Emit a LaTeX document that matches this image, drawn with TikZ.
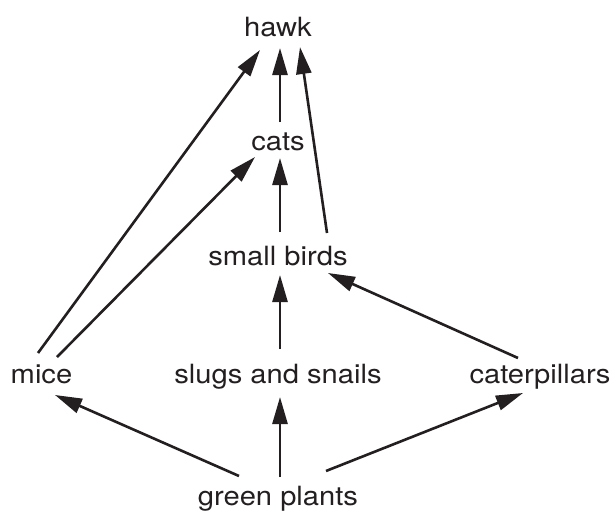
\documentclass[tikz,border=0pt]{standalone}
\usepackage{fontspec}
\setmainfont[FakeStretch=1.1]{TeX Gyre Heros}
\usetikzlibrary{arrows.meta,calc}
\definecolor{ink}{HTML}{231F20}
\begin{document}
\begin{tikzpicture}[x=1pt,y=1pt,
  lbl/.style={inner sep=0pt,anchor=base,text=ink,font=\fontsize{26.5}{30}\selectfont},
  feed/.style={draw=ink,line width=2.6pt,-{Triangle[length=27pt,width=15pt]}}]
\useasboundingbox (0,0) rectangle (613,-512);
\node[lbl] (hawk)  at (278,-36)  {hawk};
\node[lbl] (cats)  at (278,-150) {cats};
\node[lbl] (birds) at (278,-265) {small birds};
\node[lbl] (mice)  at (41.5,-383) {mice};
\node[lbl] (slugs) at (278,-383) {slugs and snails};
\node[lbl] (cater) at (540,-383) {caterpillars};
\node[lbl] (plants) at (278,-505) {green plants};
% to hawk
\draw[feed] ($(cats.base)+(2,28)$) -- ($(hawk.base)+(2,-12)$);
\draw[feed] ($(birds.base)+(49,32)$) -- ($(hawk.base)+(22,-11)$);
\draw[feed] ($(mice.base)+(-3.5,30)$) -- ($(hawk.base)+(-18,-14)$);
% to cats
\draw[feed] ($(birds.base)+(2,33)$) -- ($(cats.base)+(2,-8)$);
\draw[feed] ($(mice.base)+(15.5,26)$) -- ($(cats.base)+(-23,-7)$);
% to small birds
\draw[feed] ($(slugs.base)+(2,34)$) -- ($(birds.base)+(2,-10)$);
\draw[feed] ($(cater.base)+(-22,25)$) -- ($(birds.base)+(50,-8)$);
% from green plants
\draw[feed] ($(plants.base)+(-39,29)$) -- ($(mice.base)+(13.5,-12)$);
\draw[feed] ($(plants.base)+(2,28)$) -- ($(slugs.base)+(2,-14)$);
\draw[feed] ($(plants.base)+(48,34)$) -- ($(cater.base)+(-17,-10)$);
\end{tikzpicture}
\end{document}
